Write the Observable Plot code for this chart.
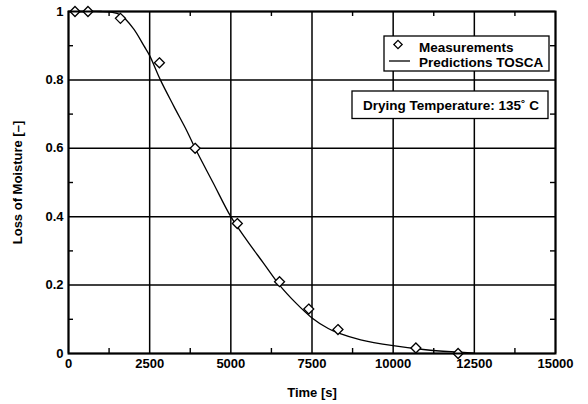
<!DOCTYPE html>
<html><head><meta charset="utf-8">
<script src="https://cdn.jsdelivr.net/npm/d3@7"></script>
<script src="https://cdn.jsdelivr.net/npm/@observablehq/plot@0.6"></script>
<style>body{margin:0;background:#fff} svg{display:block}</style>
</head><body><div id="chart"></div>
<script>
const measTime = [200, 600, 1600, 2800, 3900, 5200, 6500, 7400, 8300, 10700, 12000];
const measLoss = [1.0, 1.0, 0.98, 0.85, 0.6, 0.38, 0.21, 0.13, 0.07, 0.016, 0.0];
const predTime = [0, 500, 1000, 1300, 1600, 2000, 2320, 2500, 2830, 3250, 3650, 3900, 4450, 5000, 5500, 6000, 6500, 7000, 7500, 8000, 8300, 9000, 10000, 11000, 12000, 12500];
const predLoss = [1, 1, 1, 0.998, 0.99, 0.95, 0.9, 0.871, 0.8, 0.722, 0.65, 0.6, 0.5, 0.4, 0.33, 0.265, 0.2, 0.148, 0.104, 0.073, 0.06, 0.04, 0.023, 0.011, 0.004, 0.001];
const xTicks = [0, 2500, 5000, 7500, 10000, 12500, 15000];
const xMinor = [1250, 3750, 6250, 8750, 11250, 13750];
const yTicks = [0, 0.2, 0.4, 0.6, 0.8, 1];
const yMinor = [0.1, 0.3, 0.5, 0.7, 0.9];
const legendLabels = ["Measurements", "Predictions TOSCA"];
const annotation = "Drying Temperature: 135˚ C";
const xLabel = "Time [s]";
const yLabel = "Loss of Moisture [–]";

const meas = measTime.map((t, i) => ({t, v: measLoss[i]}));
const pred = predTime.map((t, i) => ({t, v: predLoss[i]}));
const FONT = "'Liberation Sans', Arial, Helvetica, sans-serif";
const X0 = xTicks[0], X1 = xTicks[xTicks.length - 1], Y0 = yTicks[0], Y1 = yTicks[yTicks.length - 1];

const W = 588, H = 404, ML = 68, MR = 33, MT = 11, MB = 51;
const innerW = W - ML - MR, innerH = H - MT - MB, TICK = 5;
const tickStyle = {stroke: "black", strokeWidth: 1.4};

const chart = Plot.plot({
  width: W, height: H,
  marginLeft: ML, marginRight: MR, marginTop: MT, marginBottom: MB,
  style: {fontFamily: FONT, fontSize: "13px", fontWeight: "bold", color: "black", background: "white"},
  x: {domain: [X0, X1]},
  y: {domain: [Y0, Y1]},
  marks: [
    Plot.gridX(xTicks, {stroke: "black", strokeOpacity: 1, strokeWidth: 1.5}),
    Plot.gridY(yTicks, {stroke: "black", strokeOpacity: 1, strokeWidth: 1.5}),
    // inward minor ticks on all four sides
    Plot.tickX(xMinor, {x: d => d, insetTop: innerH - TICK, ...tickStyle}),
    Plot.tickX(xMinor, {x: d => d, insetBottom: innerH - TICK, ...tickStyle}),
    Plot.tickY(yMinor, {y: d => d, insetRight: innerW - TICK, ...tickStyle}),
    Plot.tickY(yMinor, {y: d => d, insetLeft: innerW - TICK, ...tickStyle}),
    Plot.axisX(xTicks, {anchor: "bottom", tickSize: 0, tickPadding: 5, tickFormat: d => String(d), fontSize: 13, fontWeight: "bold",
      label: xLabel, labelAnchor: "center", labelArrow: "none", labelOffset: 43}),
    Plot.axisY(yTicks, {anchor: "left", tickSize: 0, tickPadding: 5, tickFormat: d => String(d), fontSize: 13, fontWeight: "bold",
      label: yLabel, labelAnchor: "center", labelArrow: "none", labelOffset: 56}),
    Plot.line(pred, {x: "t", y: "v", curve: "catmull-rom", stroke: "black", strokeWidth: 1.3}),
    Plot.dot(meas, {x: "t", y: "v", symbol: "diamond2", r: 4.5, stroke: "black", strokeWidth: 1.3, fill: "white"}),
    Plot.frame({stroke: "black", strokeWidth: 2})
  ]
});
document.getElementById("chart").appendChild(chart);

// legend & annotation boxes, anchored to the top-right corner of the frame
const xs = chart.scale("x"), ys = chart.scale("y");
const fRight = Math.max(...xs.range), fTop = Math.min(...ys.range);
const g = d3.select(chart).append("g")
  .attr("font-family", FONT).attr("font-size", 13.5).attr("font-weight", "bold")
  .attr("fill", "black").attr("text-anchor", "start");

g.append("rect").attr("x", fRight - 171).attr("y", fTop + 25).attr("width", 165).attr("height", 35)
  .attr("fill", "white").attr("stroke", "black").attr("stroke-width", 1.3);
g.append("path").attr("d", d3.symbol(d3.symbolDiamond2, Math.PI * 14)())
  .attr("transform", `translate(${fRight - 157},${fTop + 33.5})`)
  .attr("fill", "white").attr("stroke", "black").attr("stroke-width", 1.3);
g.append("line").attr("x1", fRight - 166).attr("x2", fRight - 145).attr("y1", fTop + 50).attr("y2", fTop + 50)
  .attr("stroke", "black").attr("stroke-width", 1.3);
g.append("text").attr("x", fRight - 136).attr("y", fTop + 41).text(legendLabels[0]);
g.append("text").attr("x", fRight - 136).attr("y", fTop + 56).text(legendLabels[1]);

g.append("rect").attr("x", fRight - 203).attr("y", fTop + 80).attr("width", 196).attr("height", 27.5)
  .attr("fill", "white").attr("stroke", "black").attr("stroke-width", 1.3);
g.append("text").attr("x", fRight - 192).attr("y", fTop + 98.5).text(annotation);
</script>
</body></html>
